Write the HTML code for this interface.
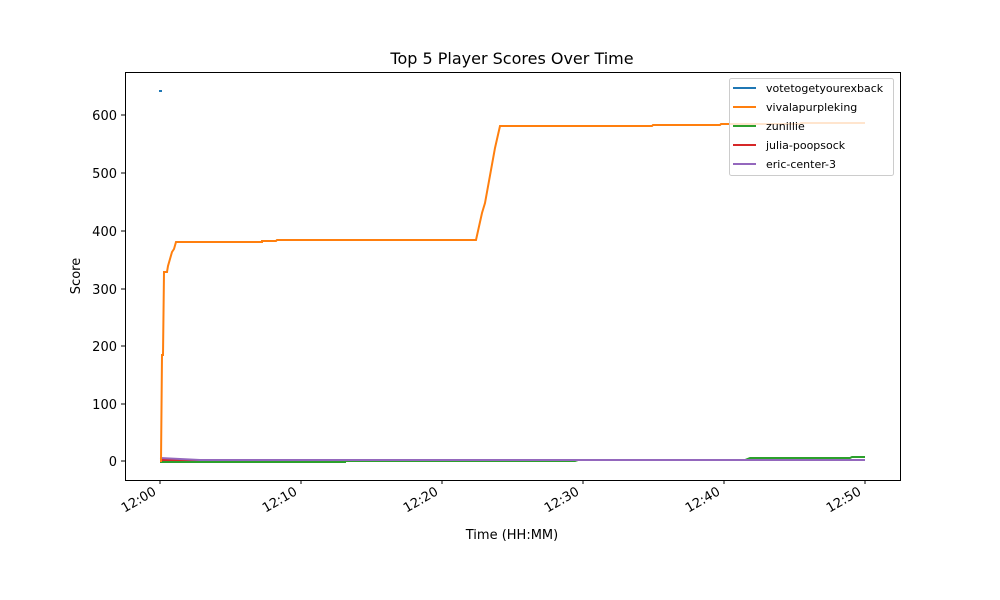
<!DOCTYPE html>
<html><head><meta charset="utf-8"><style>body{margin:0;background:#fff}svg{display:block}</style></head><body>
<svg width="1000" height="600" xmlns="http://www.w3.org/2000/svg" font-family="DejaVu Sans, Liberation Sans, sans-serif">
<rect width="1000" height="600" fill="#fff"/>
<text x="512" y="64" font-size="16" text-anchor="middle">Top 5 Player Scores Over Time</text>
<g stroke="#000" stroke-width="1">
<line x1="125" y1="461" x2="121" y2="461"/><line x1="125" y1="404" x2="121" y2="404"/><line x1="125" y1="346" x2="121" y2="346"/><line x1="125" y1="289" x2="121" y2="289"/><line x1="125" y1="231" x2="121" y2="231"/><line x1="125" y1="173" x2="121" y2="173"/><line x1="125" y1="115" x2="121" y2="115"/>
<line x1="160" y1="480" x2="160" y2="484"/><line x1="301" y1="480" x2="301" y2="484"/><line x1="442" y1="480" x2="442" y2="484"/><line x1="583" y1="480" x2="583" y2="484"/><line x1="724" y1="480" x2="724" y2="484"/><line x1="865" y1="480" x2="865" y2="484"/>
</g>
<g font-size="13" text-anchor="end">
<text x="117" y="466">0</text><text x="117" y="409">100</text><text x="117" y="351">200</text><text x="117" y="294">300</text><text x="117" y="236">400</text><text x="117" y="178">500</text><text x="117" y="120">600</text>
</g>
<g font-size="13" text-anchor="end">
<text transform="translate(157,494) rotate(-30)">12:00</text>
<text transform="translate(298,494) rotate(-30)">12:10</text>
<text transform="translate(439,494) rotate(-30)">12:20</text>
<text transform="translate(580,494) rotate(-30)">12:30</text>
<text transform="translate(721,494) rotate(-30)">12:40</text>
<text transform="translate(862,494) rotate(-30)">12:50</text>
</g>
<text x="512" y="539" font-size="13" text-anchor="middle">Time (HH:MM)</text>
<text transform="translate(80,276) rotate(-90)" font-size="13" text-anchor="middle">Score</text>
<line x1="159" y1="91" x2="162" y2="91" stroke="#1f77b4" stroke-width="2"/>
<polyline fill="none" stroke="#2ca02c" stroke-width="2" points="160,462 345,462 345,461 575,461 578,460 745,460 750,458 850,458 852,457 865,457"/>
<polyline fill="none" stroke="#d62728" stroke-width="2" points="160,460 865,460"/>
<polyline fill="none" stroke="#9467bd" stroke-width="2" points="160,458 200,460 865,460"/>
<polyline fill="none" stroke="#ff7f0e" stroke-width="2" points="160,461 161,461 162,355 163,355 164,272 167,272 168,266 170,259 172,252 174,249 176,242 233,242 234,242 262,242 262,241 276,241 277,240 397,240 398,240 476,240 482,213 485,203 495,148 500,126 565,126 566,126 652,126 653,125 720,125 721,124 800,124 801,123 865,123"/>
<rect x="125.5" y="72.5" width="775" height="408" fill="none" stroke="#000" stroke-width="1"/>
<rect x="729.5" y="78.5" width="164" height="97" rx="2" fill="#fff" fill-opacity="0.8" stroke="#ccc"/>
<g stroke-width="2">
<line x1="733" y1="88" x2="756" y2="88" stroke="#1f77b4"/>
<line x1="733" y1="107" x2="756" y2="107" stroke="#ff7f0e"/>
<line x1="733" y1="126" x2="756" y2="126" stroke="#2ca02c"/>
<line x1="733" y1="145" x2="756" y2="145" stroke="#d62728"/>
<line x1="733" y1="164" x2="756" y2="164" stroke="#9467bd"/>
</g>
<g font-size="11">
<text x="766" y="92">votetogetyourexback</text>
<text x="766" y="111">vivalapurpleking</text>
<text x="766" y="130">zunillie</text>
<text x="766" y="149">julia-poopsock</text>
<text x="766" y="168">eric-center-3</text>
</g>
</svg>
</body></html>
